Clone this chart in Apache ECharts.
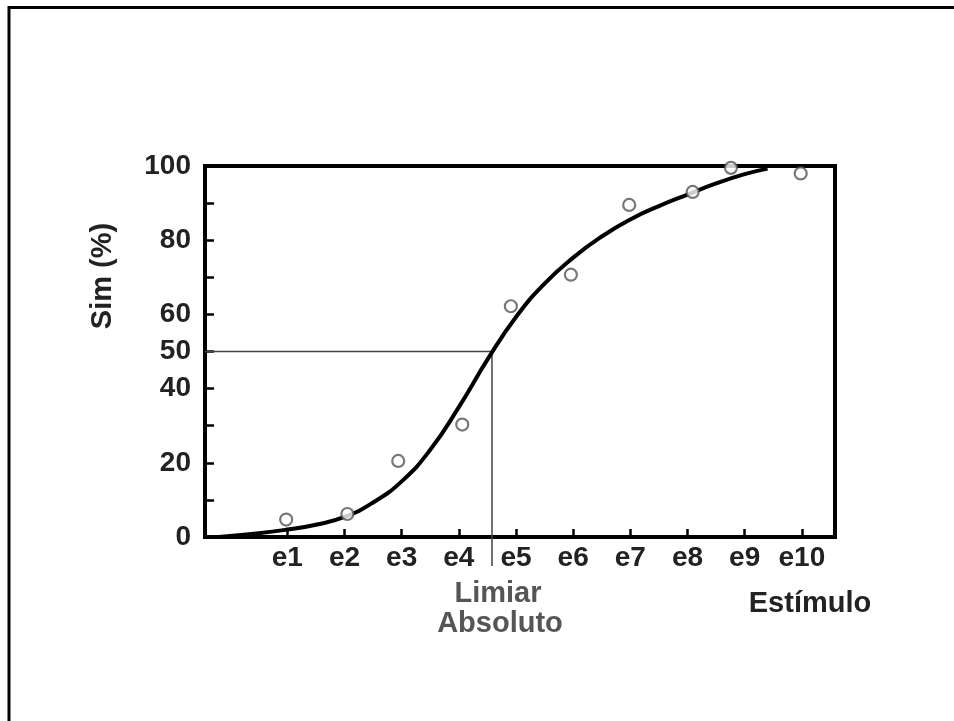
<!DOCTYPE html>
<html>
<head>
<meta charset="utf-8">
<script src="https://cdn.jsdelivr.net/npm/echarts@6/dist/echarts.min.js"></script>
<style>
  html, body { margin: 0; padding: 0; background: #fff; }
  #chart { width: 954px; height: 721px; }
</style>
</head>
<body>
<div id="chart"></div>
<script>
// ---- data ----
const stimulusLabels = ['e1', 'e2', 'e3', 'e4', 'e5', 'e6', 'e7', 'e8', 'e9', 'e10'];
const stimulusPositions = [1, 2, 3, 4, 5, 6, 7, 8, 9, 10];
const yLabelValues = [0, 20, 40, 50, 60, 80, 100];
const yTickValues = [10, 20, 30, 40, 50, 60, 70, 80, 90];

// fitted psychometric curve
const curveX = [-0.2, 0.5, 1, 1.5, 2, 2.5, 3, 3.5, 4, 4.5, 5, 5.5, 6, 6.5, 7, 7.5, 8, 8.5, 9, 9.4];
const curveY = [0, 1, 2, 3.3, 5.4, 9.3, 15, 23.5, 35, 47.8, 59.3, 68.3, 75.3, 81, 85.6, 89.2, 92.3, 95.3, 97.8, 99.3];

// observed proportions of "Sim"
const pointX = [0.98, 2.05, 2.94, 4.06, 4.91, 5.96, 6.98, 8.09, 8.76, 9.98];
const pointY = [4.7, 6.2, 20.5, 30.3, 62.2, 70.7, 89.5, 93, 99.5, 98];

// absolute threshold
const thresholdX = 4.58;
const thresholdY = 50;
const xMin = -0.44, xMax = 10.58;
const thresholdTailY = -7.8;

const FONT = 'Liberation Sans, Arial, Helvetica, sans-serif';

const chart = echarts.init(document.getElementById('chart'));
chart.setOption({
  animation: false,
  backgroundColor: '#fff',
  grid: {
    left: 205, top: 166, right: 119, bottom: 184,
    show: true, borderColor: '#000', borderWidth: 4, backgroundColor: 'transparent'
  },
  xAxis: {
    type: 'value', min: xMin, max: xMax,
    splitLine: { show: false },
    axisLine: { show: true, onZero: false, lineStyle: { color: '#000', width: 4 } },
    axisTick: { show: true, inside: true, length: 8, customValues: stimulusPositions, lineStyle: { color: '#000', width: 2.5 } },
    axisLabel: {
      customValues: stimulusPositions,
      formatter: v => stimulusLabels[stimulusPositions.indexOf(Math.round(v))] || '',
      color: '#222', fontSize: 28, fontWeight: 'bold', fontFamily: FONT, margin: 7
    }
  },
  yAxis: {
    type: 'value', min: 0, max: 100,
    splitLine: { show: false },
    axisLine: { show: true, onZero: false, lineStyle: { color: '#000', width: 4 } },
    axisTick: { show: true, inside: true, length: 9, customValues: yTickValues, lineStyle: { color: '#000', width: 2.5 } },
    axisLabel: { customValues: yLabelValues, color: '#222', fontSize: 28, fontWeight: 'bold', fontFamily: FONT, margin: 14 }
  },
  graphic: [
    { type: 'rect', shape: { x: 9, y: 7.5, width: 1100, height: 900 }, style: { fill: 'none', stroke: '#000', lineWidth: 3 }, z: 100 },
    { type: 'text', x: 103, y: 276, rotation: Math.PI / 2, style: { text: 'Sim (%)', fontSize: 29, fontWeight: 'bold', fontFamily: FONT, fill: '#222', align: 'center', verticalAlign: 'middle' } },
    { type: 'text', x: 498, y: 594, style: { text: 'Limiar', fontSize: 29, fontWeight: 'bold', fontFamily: FONT, fill: '#555', align: 'center', verticalAlign: 'middle' } },
    { type: 'text', x: 500, y: 624, style: { text: 'Absoluto', fontSize: 29, fontWeight: 'bold', fontFamily: FONT, fill: '#555', align: 'center', verticalAlign: 'middle' } },
    { type: 'text', x: 810, y: 604, style: { text: 'Estímulo', fontSize: 29, fontWeight: 'bold', fontFamily: FONT, fill: '#222', align: 'center', verticalAlign: 'middle' } }
  ],
  series: [
    {
      type: 'line', name: 'threshold', clip: false, silent: true,
      data: [[xMin, thresholdY], [thresholdX, thresholdY], [thresholdX, thresholdTailY]],
      symbol: 'none', lineStyle: { color: '#444', width: 1.5 }, z: 1
    },
    {
      type: 'line', name: 'curve', smooth: 0.5,
      data: curveX.map((x, i) => [x, curveY[i]]),
      symbol: 'none', lineStyle: { color: '#000', width: 4 }, z: 3
    },
    {
      type: 'scatter', name: 'obs',
      data: pointX.map((x, i) => [x, pointY[i]]),
      symbol: 'circle', symbolSize: 12,
      itemStyle: { color: '#fff', borderColor: '#555', borderWidth: 2.2 }, z: 4
    }
  ]
});
</script>
</body>
</html>
